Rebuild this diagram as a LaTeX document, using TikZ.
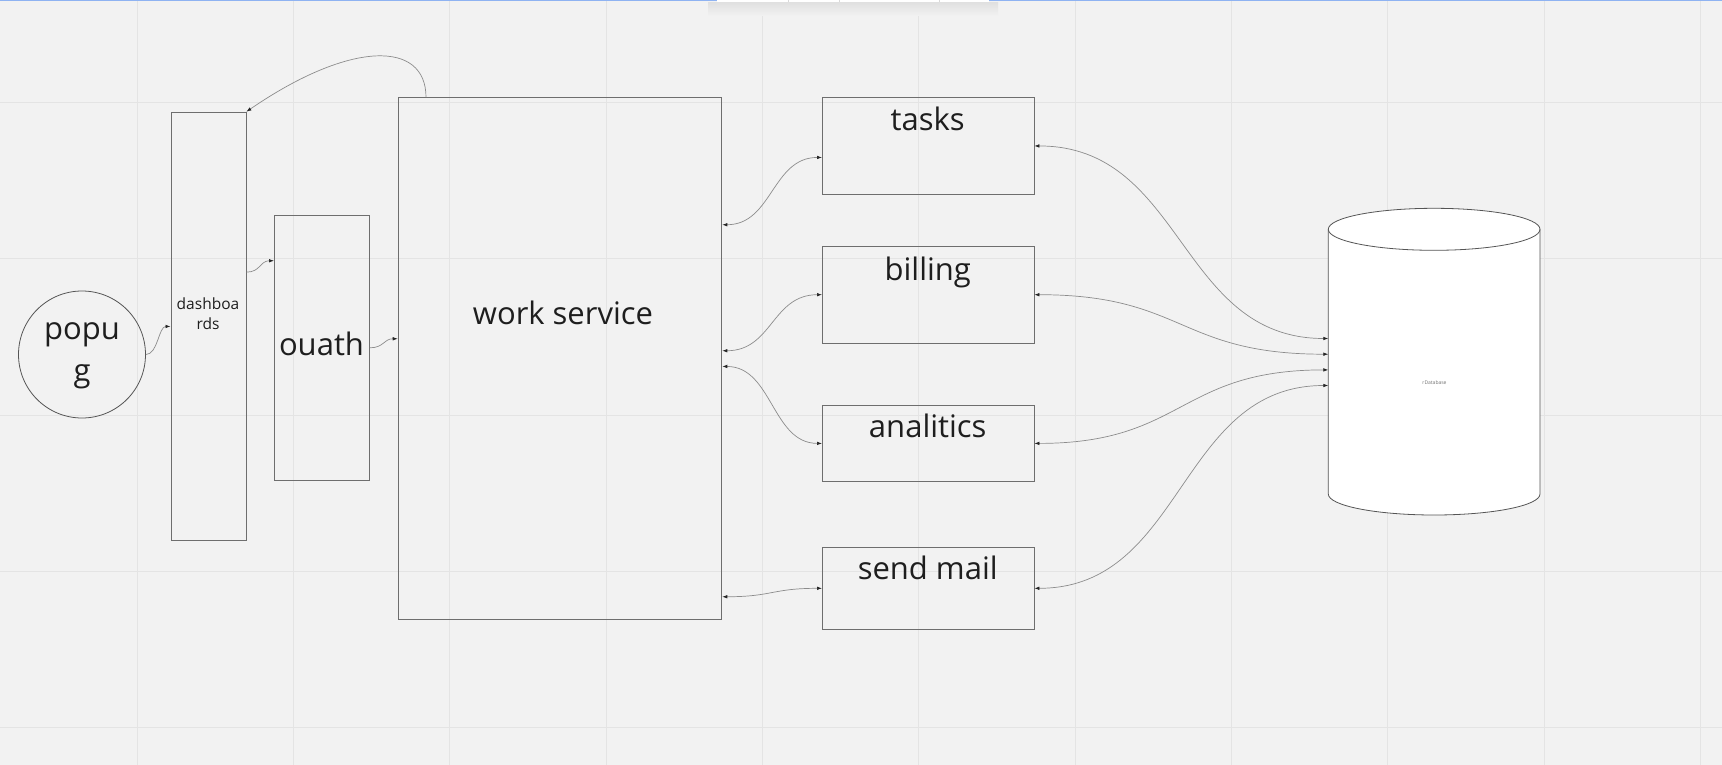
\documentclass[tikz,border=0pt]{standalone}
\usepackage{fontspec}
\setmainfont{Open Sans}
\usetikzlibrary{arrows.meta}
\definecolor{bg}{HTML}{F2F2F2}
\definecolor{gridc}{HTML}{E4E4E4}
\definecolor{boxc}{HTML}{6E6E6E}
\definecolor{cylc}{HTML}{555555}
\definecolor{linec}{HTML}{8C8C8C}
\definecolor{txt}{HTML}{1E1E1E}
\definecolor{topblue}{HTML}{8FB3F2}
\definecolor{tipc}{HTML}{262626}
\begin{document}
\begin{tikzpicture}[x=1pt,y=-1pt,
  box/.style={draw=boxc, line width=0.9pt, rectangle, inner sep=0pt, anchor=north west},
  big/.style={text=txt, font=\fontsize{31}{42}\selectfont, inner sep=0pt, anchor=base},
  conn/.style={draw=linec, line width=0.7pt},
  tip/.style={-{Latex[length=5pt,width=3.6pt,color=tipc]}},
  tips/.style={{Latex[length=5pt,width=3.6pt,color=tipc]}-{Latex[length=5pt,width=3.6pt,color=tipc]}},
]
\fill[bg] (0,0) rectangle (1722,765);
\useasboundingbox (0,0) rectangle (1722,765);
% grid
\foreach \i in {0,...,10} \draw[gridc, line width=1pt] ({137.3+156.3*\i},0) -- ++(0,765);
\foreach \j in {0,...,4} \draw[gridc, line width=1pt] (0,{102.5+156.3*\j}) -- ++(1722,0);
% top UI strip
\fill[topblue] (0,0) rectangle (1722,1.5);
\shade[top color=black!12, bottom color=bg] (708,2.5) rectangle (998,16);
\fill[white] (717,0) rectangle (989,2.5);
\foreach \sx in {788,839,939} \draw[black!15, line width=0.5pt] (\sx,0) -- (\sx,2.5);
% database cylinder
\filldraw[fill=white, draw=cylc, line width=0.8pt]
  (1328.3,229.3) -- (1328.3,494)
  .. controls (1328.3,505.6) and (1375.7,515) .. (1434.15,515)
  .. controls (1492.6,515) and (1540,505.6) .. (1540,494)
  -- (1540,229.3)
  .. controls (1540,217.7) and (1492.6,208.3) .. (1434.15,208.3)
  .. controls (1375.7,208.3) and (1328.3,217.7) .. (1328.3,229.3) -- cycle;
\draw[cylc, line width=0.8pt] (1328.3,229.3)
  .. controls (1328.3,240.9) and (1375.7,250.3) .. (1434.15,250.3)
  .. controls (1492.6,250.3) and (1540,240.9) .. (1540,229.3);
\node[inner sep=0pt, minimum width=211.7pt, minimum height=306.7pt, anchor=north west] (db) at (1328.3,208.3) {};
\node[text=black!55, font=\fontsize{5}{6}\selectfont, inner sep=0pt] (dbtxt) at (1434.5,382.3) {rDatabase};
% boxes
\node[draw=cylc, line width=0.8pt, circle, minimum size=127pt, inner sep=0pt] (popug) at (82,354.5) {};
\node[box, minimum width=75pt, minimum height=428.6pt] (dash) at (170.5,111.7) {};
\node[box, minimum width=95pt, minimum height=265.3pt] (ouath) at (274,214.7) {};
\node[box, minimum width=323.7pt, minimum height=521.7pt] (work) at (397.7,97.3) {};
\node[box, minimum width=211.5pt, minimum height=96pt] (tasks) at (822,97.5) {};
\node[box, minimum width=211.5pt, minimum height=96.5pt] (billing) at (822,246) {};
\node[box, minimum width=211.5pt, minimum height=75.3pt] (analitics) at (822,405.3) {};
\node[box, minimum width=211.5pt, minimum height=82.3pt] (sendmail) at (822,546.7) {};
% texts
\node[big, align=center] (popugtxt) at (82,381) {popu\\g};
\node[text=txt, font=\fontsize{15.5}{20}\selectfont, inner sep=0pt, align=center, anchor=base] (dashtxt) at (208,329) {dashboa\\rds};
\node[big] (ouathtxt) at (321.5,355) {ouath};
\node[big] (worktxt) at (563,324) {work service};
\node[big] (taskstxt) at (927.75,130.7) {tasks};
\node[big] (billingtxt) at (927.75,280.7) {billing};
\node[big] (analiticstxt) at (927.75,437.7) {analitics};
\node[big] (sendmailtxt) at (927.75,579.3) {send mail};
% connectors
\draw[conn, tip] (popug.east) .. controls +(12,0) and +(-12,0) .. (dash.west);
\draw[conn, tip] ([yshift=54.3pt]dash.east) .. controls +(14,0) and +(-14,0) .. ([yshift=87.05pt]ouath.west);
\draw[conn, tip] (ouath.east) .. controls +(14,0) and +(-14,0) .. ([yshift=19.85pt]work.west);
\draw[conn, tip] ([xshift=28.3pt]work.north west) .. controls +(0,-57) and +(104.5,-71.7) .. (dash.north east);
\draw[conn, tips] ([yshift=133.85pt]work.east) .. controls +(50,0) and +(-50,0) .. ([yshift=-11.5pt]tasks.west);
\draw[conn, tips] ([yshift=7.85pt]work.east) .. controls +(50,0) and +(-50,0) .. (billing.west);
\draw[conn, tips] ([yshift=-7.85pt]work.east) .. controls +(50,0) and +(-50,0) .. (analitics.west);
\draw[conn, tips] ([yshift=-238.15pt]work.east) .. controls +(50,0) and +(-50,0) .. (sendmail.west);
\draw[conn, tips] (tasks.east) .. controls +(150,0) and +(-150,0) .. ([yshift=23.35pt]db.west);
\draw[conn, tips] (billing.east) .. controls +(150,0) and +(-150,0) .. ([yshift=7.65pt]db.west);
\draw[conn, tips] (analitics.east) .. controls +(150,0) and +(-150,0) .. ([yshift=-8.05pt]db.west);
\draw[conn, tips] (sendmail.east) .. controls +(150,0) and +(-150,0) .. ([yshift=-23.65pt]db.west);
\end{tikzpicture}
\end{document}
